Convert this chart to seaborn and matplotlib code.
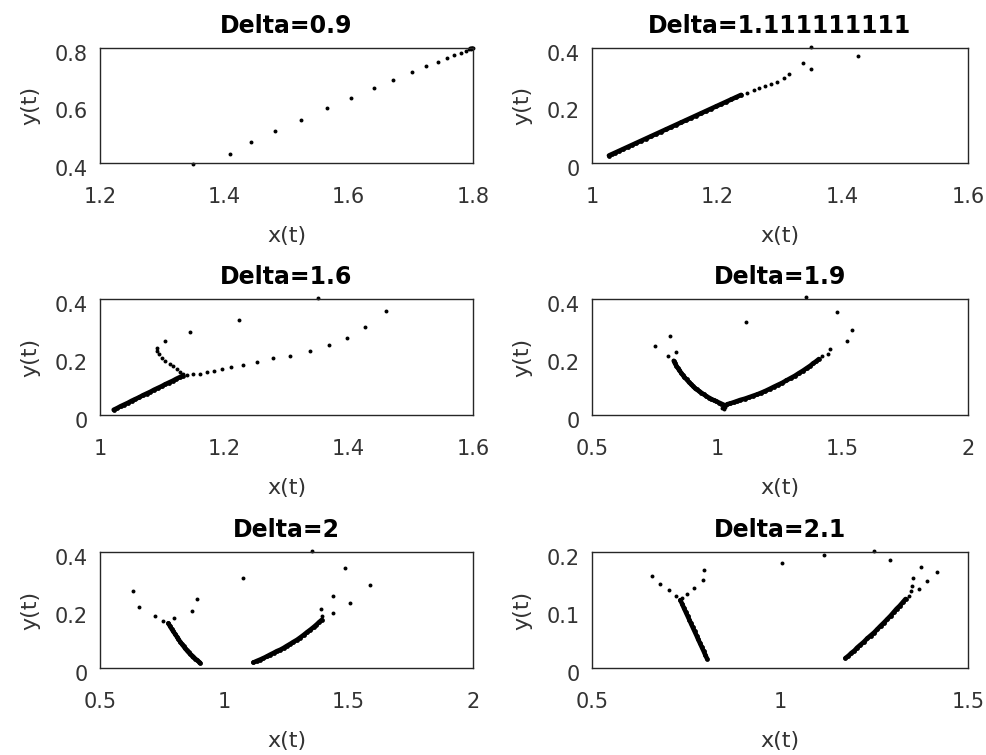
import matplotlib
matplotlib.use("Agg")
import matplotlib.pyplot as plt
import matplotlib.transforms as mtransforms
import seaborn as sns

sns.set_style("white")
plt.rcParams['font.family'] = ['DejaVu Sans']

# ---------------- data ----------------
titles = ["Delta=0.9", "Delta=1.111111111", "Delta=1.6", "Delta=1.9", "Delta=2", "Delta=2.1"]

xlims = [(1.2, 1.8), (1.0, 1.6), (1.0, 1.6), (0.5, 2.0), (0.5, 2.0), (0.5, 1.5)]
ylims = [(0.4, 0.8), (0.0, 0.4), (0.0, 0.4), (0.0, 0.4), (0.0, 0.4), (0.0, 0.2)]
xticks = [[1.2, 1.4, 1.6, 1.8], [1.0, 1.2, 1.4, 1.6], [1.0, 1.2, 1.4, 1.6],
          [0.5, 1.0, 1.5, 2.0], [0.5, 1.0, 1.5, 2.0], [0.5, 1.0, 1.5]]
xticklabels = [["1.2", "1.4", "1.6", "1.8"], ["1", "1.2", "1.4", "1.6"], ["1", "1.2", "1.4", "1.6"],
               ["0.5", "1", "1.5", "2"], ["0.5", "1", "1.5", "2"], ["0.5", "1", "1.5"]]
yticks = [[0.4, 0.6, 0.8], [0.0, 0.2, 0.4], [0.0, 0.2, 0.4], [0.0, 0.2, 0.4], [0.0, 0.2, 0.4], [0.0, 0.1, 0.2]]
yticklabels = [["0.4", "0.6", "0.8"], ["0", "0.2", "0.4"], ["0", "0.2", "0.4"],
               ["0", "0.2", "0.4"], ["0", "0.2", "0.4"], ["0", "0.1", "0.2"]]

# Panel 1 (Delta=0.9)
p1_sparse_x = [1.349, 1.409, 1.443, 1.482, 1.524, 1.565, 1.604, 1.640, 1.672, 1.702, 1.725, 1.743,
               1.758, 1.770, 1.780, 1.788, 1.793, 1.795, 1.796, 1.797, 1.798, 1.799, 1.800]
p1_sparse_y = [0.396, 0.432, 0.472, 0.511, 0.551, 0.591, 0.627, 0.661, 0.690, 0.718, 0.736, 0.752,
               0.765, 0.774, 0.783, 0.791, 0.796, 0.799, 0.797, 0.799, 0.800, 0.801, 0.801]

# Panel 2 (Delta=1.111111111)
p2_curve_x = [1.027, 1.032, 1.037, 1.043, 1.050, 1.057, 1.064, 1.071, 1.078, 1.086, 1.094, 1.102,
              1.110, 1.118, 1.126, 1.134, 1.142, 1.150, 1.158, 1.166, 1.174, 1.182, 1.190, 1.198,
              1.206, 1.214, 1.222, 1.230, 1.238]
p2_curve_y = [0.026, 0.031, 0.036, 0.042, 0.049, 0.056, 0.063, 0.070, 0.077, 0.085, 0.093, 0.101,
              0.109, 0.117, 0.125, 0.133, 0.141, 0.149, 0.157, 0.165, 0.173, 0.181, 0.189, 0.197,
              0.205, 0.213, 0.221, 0.229, 0.237]
p2_sparse_x = [1.247, 1.258, 1.267, 1.276, 1.285, 1.295, 1.306, 1.314, 1.337, 1.350, 1.349, 1.424]
p2_sparse_y = [0.243, 0.253, 0.261, 0.268, 0.276, 0.283, 0.294, 0.311, 0.348, 0.327, 0.403, 0.371]

# Panel 3 (Delta=1.6)
p3_curve_x = [1.022, 1.027, 1.033, 1.039, 1.045, 1.051, 1.057, 1.063, 1.069, 1.075, 1.081, 1.087,
              1.093, 1.099, 1.105, 1.111, 1.117, 1.123, 1.129, 1.133]
p3_curve_y = [0.018, 0.023, 0.030, 0.036, 0.042, 0.049, 0.055, 0.061, 0.068, 0.074, 0.080, 0.087,
              0.093, 0.099, 0.106, 0.112, 0.118, 0.125, 0.131, 0.135]
p3_sparse_x = [1.133, 1.129, 1.124, 1.118, 1.112, 1.105, 1.099, 1.095, 1.092, 1.091,
               1.105, 1.145, 1.223, 1.350, 1.460,
               1.140, 1.150, 1.161, 1.172, 1.184, 1.197, 1.211, 1.230, 1.252, 1.278, 1.305,
               1.337, 1.368, 1.397, 1.426]
p3_sparse_y = [0.140, 0.150, 0.160, 0.168, 0.177, 0.187, 0.198, 0.209, 0.220, 0.231,
               0.254, 0.285, 0.326, 0.403, 0.360,
               0.137, 0.140, 0.143, 0.147, 0.152, 0.160, 0.167, 0.174, 0.183, 0.196, 0.204,
               0.222, 0.242, 0.265, 0.303]

# Panel 4 (Delta=1.9)
p4_left_x = [0.826, 0.831, 0.837, 0.843, 0.849, 0.855, 0.862, 0.869, 0.877, 0.885, 0.893, 0.901,
             0.909, 0.917, 0.926, 0.936, 0.946, 0.956, 0.966, 0.976, 0.986, 0.996, 1.006, 1.016,
             1.026]
p4_left_y = [0.187, 0.178, 0.169, 0.161, 0.154, 0.146, 0.138, 0.130, 0.123, 0.115, 0.108, 0.101,
             0.094, 0.088, 0.083, 0.077, 0.071, 0.065, 0.060, 0.055, 0.051, 0.047, 0.043, 0.039,
             0.035]
p4_right_x = [1.039, 1.052, 1.066, 1.079, 1.092, 1.109, 1.126, 1.142, 1.159, 1.176, 1.192, 1.209,
              1.225, 1.242, 1.259, 1.275, 1.292, 1.309, 1.325, 1.342, 1.359, 1.371, 1.382, 1.394,
              1.405]
p4_right_y = [0.037, 0.040, 0.044, 0.048, 0.052, 0.056, 0.061, 0.066, 0.071, 0.077, 0.083, 0.090,
              0.097, 0.104, 0.111, 0.119, 0.127, 0.135, 0.144, 0.153, 0.163, 0.170, 0.178, 0.185,
              0.193]
p4_sparse_x = [1.418, 1.441, 1.451, 1.478, 1.538, 1.518, 1.352, 1.116, 0.753, 0.813, 0.802, 0.837,
               1.025, 1.030, 1.020, 1.033]
p4_sparse_y = [0.202, 0.210, 0.229, 0.354, 0.294, 0.254, 0.406, 0.319, 0.239, 0.271, 0.204, 0.218,
               0.022, 0.028, 0.025, 0.033]

# Panel 5 (Delta=2)
p5_left_x = [0.775, 0.781, 0.788, 0.795, 0.802, 0.809, 0.815, 0.822, 0.829, 0.836, 0.842, 0.849,
             0.856, 0.863, 0.870, 0.876, 0.883, 0.890, 0.897, 0.903]
p5_left_y = [0.154, 0.145, 0.135, 0.126, 0.117, 0.108, 0.100, 0.091, 0.083, 0.075, 0.068, 0.061,
             0.054, 0.048, 0.043, 0.038, 0.032, 0.027, 0.022, 0.017]
p5_right_x = [1.117, 1.130, 1.144, 1.157, 1.171, 1.184, 1.198, 1.211, 1.225, 1.238, 1.251, 1.265,
              1.278, 1.292, 1.305, 1.319, 1.332, 1.346, 1.359, 1.370, 1.381, 1.392]
p5_right_y = [0.019, 0.024, 0.029, 0.034, 0.040, 0.046, 0.052, 0.058, 0.063, 0.069, 0.076, 0.083,
              0.090, 0.097, 0.105, 0.114, 0.123, 0.132, 0.141, 0.149, 0.158, 0.166]
p5_sparse_x = [0.634, 0.658, 0.721, 0.755, 0.799, 0.869, 0.889, 1.392, 1.389, 1.439, 1.439, 1.504,
               1.486, 1.584, 1.352, 1.074]
p5_sparse_y = [0.265, 0.211, 0.181, 0.162, 0.171, 0.197, 0.237, 0.179, 0.203, 0.189, 0.248, 0.223,
               0.346, 0.286, 0.403, 0.311]

# Panel 6 (Delta=2.1)
p6_left_x = [0.735, 0.740, 0.744, 0.749, 0.754, 0.759, 0.763, 0.768, 0.773, 0.778, 0.782, 0.787,
             0.792, 0.797, 0.801, 0.806]
p6_left_y = [0.117, 0.110, 0.104, 0.097, 0.090, 0.083, 0.077, 0.070, 0.063, 0.056, 0.050, 0.043,
             0.036, 0.029, 0.023, 0.016]
p6_right_x = [1.174, 1.182, 1.190, 1.198, 1.205, 1.214, 1.223, 1.232, 1.241, 1.250, 1.259, 1.268,
              1.276, 1.285, 1.294, 1.302, 1.310, 1.318, 1.326, 1.334]
p6_right_y = [0.017, 0.021, 0.026, 0.030, 0.035, 0.040, 0.045, 0.051, 0.056, 0.061, 0.067, 0.073,
              0.078, 0.084, 0.090, 0.096, 0.102, 0.107, 0.113, 0.119]
p6_sparse_x = [0.660, 0.682, 0.704, 0.724, 0.740, 0.753, 0.771, 0.796, 0.797,
               1.343, 1.349, 1.369, 1.351, 1.355, 1.392, 1.374, 1.418, 1.292, 1.250, 1.117, 1.004]
p6_sparse_y = [0.159, 0.145, 0.134, 0.125, 0.121, 0.128, 0.138, 0.152, 0.169,
               0.125, 0.133, 0.136, 0.142, 0.155, 0.150, 0.174, 0.165, 0.187, 0.202, 0.194, 0.181]

curves = [
    [],
    [(p2_curve_x, p2_curve_y)],
    [(p3_curve_x, p3_curve_y)],
    [(p4_left_x, p4_left_y), (p4_right_x, p4_right_y)],
    [(p5_left_x, p5_left_y), (p5_right_x, p5_right_y)],
    [(p6_left_x, p6_left_y), (p6_right_x, p6_right_y)],
]
sparse = [(p1_sparse_x, p1_sparse_y), (p2_sparse_x, p2_sparse_y), (p3_sparse_x, p3_sparse_y),
          (p4_sparse_x, p4_sparse_y), (p5_sparse_x, p5_sparse_y), (p6_sparse_x, p6_sparse_y)]

# ---------------- layout ----------------
fig = plt.figure(figsize=(9.87, 7.55), dpi=100)
W, H = 987.0, 755.0
col_lr = [(100, 473), (592, 968)]
row_tb = [(48, 163), (299, 415), (552, 668)]

txt_col = '#333333'
down = mtransforms.ScaledTranslation(0, -5 / 100.0, fig.dpi_scale_trans)

for i in range(6):
    r, c = divmod(i, 2)
    l, rr = col_lr[c]
    t, b = row_tb[r]
    ax = fig.add_axes([l / W, 1 - b / H, (rr - l) / W, (b - t) / H])
    for cx, cy in curves[i]:
        sns.lineplot(x=cx, y=cy, ax=ax, sort=False, estimator=None, color='black',
                     linewidth=3.3, solid_capstyle='round', legend=False)
        sns.scatterplot(x=cx, y=cy, ax=ax, s=12, color='black',
                        linewidth=0, edgecolor=None, legend=False)
    sx, sy = sparse[i]
    sns.scatterplot(x=sx, y=sy, ax=ax, s=8, color='black',
                    linewidth=0, edgecolor=None, legend=False, clip_on=False)
    ax.set_xlim(*xlims[i])
    ax.set_ylim(*ylims[i])
    ax.set_xticks(xticks[i])
    ax.set_xticklabels(xticklabels[i])
    ax.set_yticks(yticks[i])
    ax.set_yticklabels(yticklabels[i])
    ax.tick_params(axis='both', direction='in', length=0, width=0, colors='#262626',
                   labelcolor=txt_col, labelsize=15, labeltop=False, labelright=False)
    ax.tick_params(axis='x', pad=17)
    ax.tick_params(axis='y', pad=9)
    for lab in ax.get_yticklabels():
        lab.set_transform(lab.get_transform() + down)
    for sp in ax.spines.values():
        sp.set_visible(True)
        sp.set_color('#262626')
        sp.set_linewidth(1.0)
    ax.set_xlabel("x(t)", fontsize=16, color=txt_col)
    ax.set_ylabel("y(t)", fontsize=16, color=txt_col)
    ax.xaxis.set_label_coords(0.5, -63.0 / (b - t))
    ax.yaxis.set_label_coords(-60.0 / (rr - l), 0.5)
    ax.set_title(titles[i], fontsize=17, fontweight='bold', color='black', pad=11)
    ax.grid(False)

fig.savefig("out.png", dpi=100, facecolor='white')
